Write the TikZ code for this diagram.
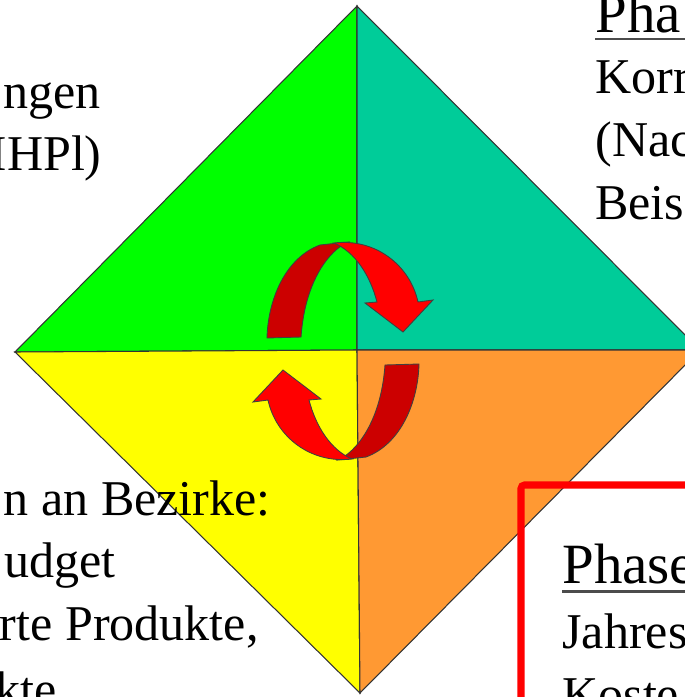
\documentclass[tikz,border=0pt]{standalone}
\usepackage{fontspec}
\setmainfont{Liberation Serif}
\definecolor{quadgreen}{HTML}{00FF00}
\definecolor{quadteal}{HTML}{00CC99}
\definecolor{quadyellow}{HTML}{FFFF00}
\definecolor{quadorange}{HTML}{FF9933}
\definecolor{arrowred}{HTML}{FF0000}
\definecolor{arrowdark}{HTML}{CC0000}
\tikzset{
  quad/.style={draw=black!80, line width=0.6pt},
  txt/.style={inner sep=0pt, font=\fontsize{28.5}{34}\selectfont},
  headtxt/.style={inner sep=0pt, font=\fontsize{32.4}{39}\selectfont},
  uline/.style={draw=black!70, line width=1.2pt},
  redbox/.style={draw=arrowred, line width=4pt, rounded corners=2pt},
  backface/.style={fill=arrowdark, draw=black!75, line width=0.5pt},
  frontface/.style={fill=arrowred, draw=black!75, line width=0.5pt},
  turnarrow/.pic={
    % back of the band (tail side)
    \filldraw[backface] (267,338) .. controls (268,300) and (285,258) .. (320,245)
      -- (348,242) .. controls (330,250) and (305,280) .. (301,337) -- cycle;
    % front of the band with head
    \filldraw[frontface] (334,243) .. controls (375,238) and (410,265) .. (418,302)
      -- (433,300) -- (403,332) -- (365,303) -- (377,302)
      .. controls (370,275) and (355,252) .. (334,243) -- cycle;
  }
}

\begin{document}
\begin{tikzpicture}[x=0.02cm, y=-0.02cm]
  \useasboundingbox (0,0) rectangle (685,697);
  \clip (0,0) rectangle (685,697);

  % the four quarters
  \coordinate (top) at (357,6);
  \coordinate (left) at (15,352);
  \coordinate (right) at (700,350);
  \coordinate (bottom) at (360,693);
  \coordinate (mid) at (357,350);
  \filldraw[quad, fill=quadgreen] (top) -- (left) -- (mid) -- cycle;
  \filldraw[quad, fill=quadteal] (top) -- (mid) -- (right) -- cycle;
  \filldraw[quad, fill=quadyellow] (left) -- (bottom) -- (mid) -- cycle;
  \filldraw[quad, fill=quadorange] (mid) -- (bottom) -- (right) -- cycle;

  % turning arrows
  \pic at (0,0) {turnarrow};
  \pic[rotate=180] at (686,702) {turnarrow};

  % top left
  \node (tl1)[txt, anchor=base east] at (101,108) {ngen};
  \node (tl2)[txt, anchor=base east] at (102,170) {HHPl)};

  % top right
  \node (tr0)[headtxt, anchor=base west] at (595,32) {Pha};
  \draw[uline] ([yshift=-0.14cm]tr0.base west) -- ++(95,0);
  \node (tr1)[txt, anchor=base west] at (595,93) {Korr};
  \node (tr2)[txt, anchor=base west] at (595,156) {(Nac};
  \node (tr3)[txt, anchor=base west] at (595,219) {Beis};

  % bottom left
  \node (bl1)[txt, anchor=base east] at (271,515) {n an Bezirke:};
  \node (bl2)[txt, anchor=base east] at (116,577) {udget};
  \node (bl3)[txt, anchor=base east] at (259,640) {rte Produkte,};
  \node (bl4)[txt, anchor=base east] at (57,706) {kte};

  % bottom right
  \draw[redbox] (521,485) rectangle (760,760);
  \node (br0)[headtxt, anchor=base west] at (562,583) {Phase};
  \draw[uline] ([yshift=-0.17cm]br0.base west) -- ++(130,0);
  \node (br1)[txt, anchor=base west] at (562,648) {Jahres};
  \node (br2)[txt, anchor=base west] at (562,711) {Koste};
\end{tikzpicture}
\end{document}
